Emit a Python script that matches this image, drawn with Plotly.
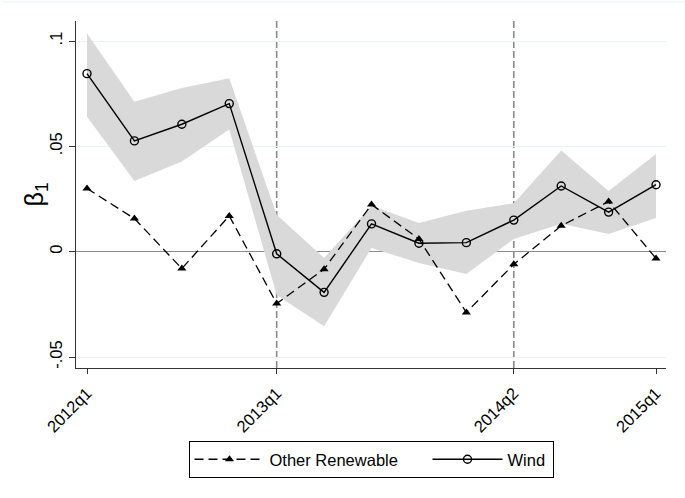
import plotly.graph_objects as go

# Quarterly coefficient estimates (beta_1) with 95% band for wind
quarters = ["2012q1", "2012q2", "2012q3", "2012q4",
            "2013q1", "2013q2", "2013q3", "2013q4",
            "2014q1", "2014q2", "2014q3", "2014q4", "2015q1"]
wind = [0.0845, 0.0526, 0.0605, 0.0703, -0.0010, -0.0193, 0.0132,
        0.0040, 0.0043, 0.0150, 0.0312, 0.0188, 0.0318]
wind_upper = [0.1036, 0.0712, 0.0777, 0.0823, 0.0175, -0.0030, 0.0218,
              0.0136, 0.0194, 0.0230, 0.0480, 0.0288, 0.0464]
wind_lower = [0.0640, 0.0336, 0.0428, 0.0580, -0.0205, -0.0354, 0.0018,
              -0.0054, -0.0106, 0.0060, 0.0133, 0.0084, 0.0160]
other_renewable = [0.0300, 0.0157, -0.0080, 0.0170, -0.0246, -0.0083, 0.0224,
                   0.0060, -0.0288, -0.0060, 0.0123, 0.0238, -0.0032]

x_tick_labels = ["2012q1", "2013q1", "2014q2", "2015q1"]
event_quarters = ["2013q1", "2014q2"]
y_ticks = [-0.05, 0, 0.05, 0.1]
y_tick_labels = ["-.05", "0", ".05", ".1"]

x = list(range(len(quarters)))
pos = {q: i for i, q in enumerate(quarters)}

FONT = "Liberation Sans, Arial, sans-serif"
BAND = "#d9d9d9"
GRID = "#eaf2f3"

fig = go.Figure()

# Confidence band for wind
fig.add_trace(go.Scatter(x=x, y=wind_lower, mode="lines",
                         line=dict(width=0, color=BAND),
                         showlegend=False, hoverinfo="skip"))
fig.add_trace(go.Scatter(x=x, y=wind_upper, mode="lines",
                         line=dict(width=0, color=BAND),
                         fill="tonexty", fillcolor=BAND,
                         showlegend=False, hoverinfo="skip"))

fig.add_trace(go.Scatter(
    x=x, y=other_renewable, mode="lines+markers", name="Other Renewable",
    line=dict(color="black", width=1.3, dash="9px,5px"),
    marker=dict(symbol="triangle-up", size=8, color="black"),
    legendwidth=153,
))
fig.add_trace(go.Scatter(
    x=x, y=wind, mode="lines+markers", name="Wind",
    line=dict(color="black", width=1.4),
    marker=dict(symbol="circle-open", size=8, color="black",
                line=dict(width=1.4)),
    legendwidth=40,
))

# Vertical reference lines at the event quarters
for q in event_quarters:
    fig.add_shape(type="line", xref="x", yref="paper",
                  x0=pos[q], x1=pos[q], y0=0, y1=1,
                  line=dict(color="#8a8a8a", width=1.6, dash="7px,3px"),
                  layer="below")

# Light frame around the whole graph region
fig.add_shape(type="line", xref="paper", yref="paper",
              x0=-74 / 590, x1=617 / 590, y0=366 / 347, y1=366 / 347,
              line=dict(color=GRID, width=1.2))
fig.add_shape(type="line", xref="paper", yref="paper",
              x0=617 / 590, x1=617 / 590, y0=366 / 347, y1=-130 / 347,
              line=dict(color=GRID, width=1.2))

# Y-axis title
fig.add_annotation(text="β<sub>1</sub>", xref="paper", yref="paper",
                   x=-41 / 590, y=0.5, textangle=-90, showarrow=False,
                   xanchor="center", yanchor="middle",
                   font=dict(family=FONT, size=25, color="black"))

fig.update_layout(
    width=685, height=498,
    margin=dict(l=76, r=19, t=21, b=130),
    paper_bgcolor="white", plot_bgcolor="white",
    font=dict(family=FONT, size=16.5, color="black"),
    showlegend=True,
    legend=dict(orientation="h", x=0.5, xanchor="center",
                y=-73 / 347, yanchor="top", traceorder="normal",
                bordercolor="black", borderwidth=1,
                font=dict(family=FONT, size=16.5, color="black"),
                itemwidth=70, bgcolor="white"),
    xaxis=dict(range=[-0.232, 12.21], tickmode="array",
               tickvals=[pos[q] for q in x_tick_labels],
               ticktext=x_tick_labels, tickangle=-45,
               showgrid=False, zeroline=False,
               showline=True, linecolor="#333333", linewidth=1.3,
               ticks="outside", ticklen=5, tickcolor="#333333",
               ticklabelstandoff=3,
               tickfont=dict(family=FONT, size=16.5, color="black")),
    yaxis=dict(range=[-0.0552, 0.1095], tickmode="array",
               tickvals=y_ticks, ticktext=y_tick_labels, tickangle=-90,
               showgrid=True, gridcolor=GRID, gridwidth=1.2,
               zeroline=True, zerolinecolor="#8c8c8c", zerolinewidth=1.3,
               showline=True, linecolor="#333333", linewidth=1.3,
               ticks="outside", ticklen=6, tickcolor="#333333",
               tickfont=dict(family=FONT, size=16.5, color="black")),
)

fig.write_html("out.html")
